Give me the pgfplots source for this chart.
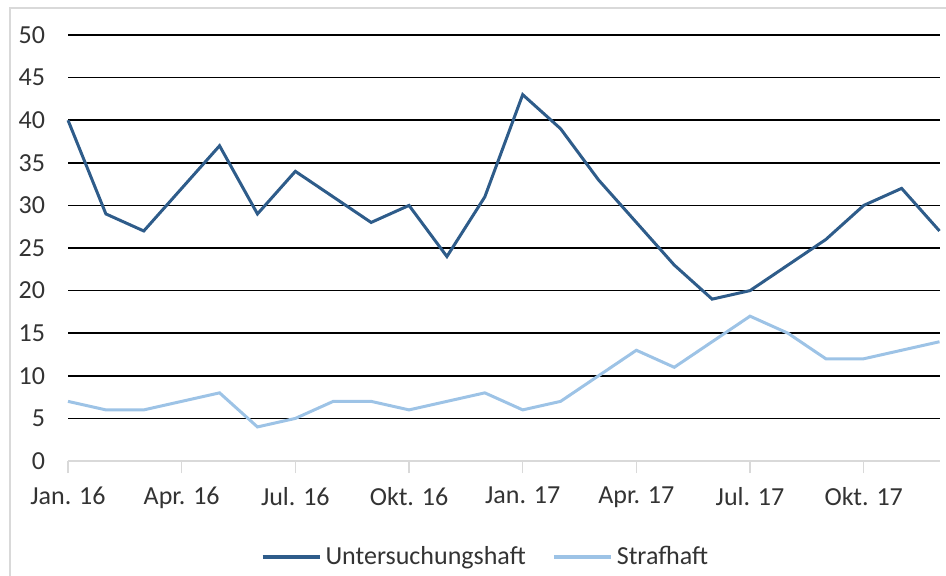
\documentclass[border=0pt]{standalone}
\usepackage{fontspec}
\setmainfont{Carlito}
\usepackage{pgfplots}
\pgfplotsset{compat=1.18}

\definecolor{uhaft}{HTML}{2E5C8A}
\definecolor{shaft}{HTML}{9DC3E6}
\definecolor{frame}{HTML}{D9D9D9}

\begin{document}
\fontsize{13}{15.5}\selectfont
\begin{tikzpicture}
\useasboundingbox (-34pt,-57pt) rectangle (439pt,230.5pt);
\draw[frame, line width=0.75pt] (-29pt,-80pt) rectangle (470pt,226.5pt);
\begin{axis}[
    at={(0,0)}, anchor=south west,
    scale only axis,
    width=435.75pt, height=213pt,
    xmin=0, xmax=23,
    ymin=0, ymax=50,
    xtick={0,3,...,21},
    xticklabels={Jan. 16, Apr. 16, Jul. 16, Okt. 16, Jan. 17, Apr. 17, Jul. 17, Okt. 17},
    ytick={0,5,...,50},
    axis x line*=bottom,
    axis y line*=left,
    x axis line style={frame, line width=0.75pt, -},
    y axis line style={draw=none},
    ymajorgrids,
    grid style={black, line width=0.75pt},
    tick align=outside,
    major tick length=6pt,
    x tick style={frame, line width=0.75pt},
    y tick style={draw=none},
    tick label style={font=\fontsize{13}{15.5}\selectfont, text=black!80},
    xticklabel style={yshift=-2.5pt},
    yticklabel style={xshift=-1pt},
    /pgf/number format/assume math mode=true,
    legend style={
        at={(axis description cs:0.48,-0.2254)}, anchor=center,
        draw=none, fill=none,
        font=\fontsize{13}{15.5}\selectfont,
        text=black!80,
    },
    legend columns=2,
    legend cell align=left,
    /tikz/every even column/.append style={column sep=11pt},
    legend image code/.code={\draw[#1, line width=2pt] (0pt,0pt) -- (28.5pt,0pt);},
    clip=false,
]
\addplot[uhaft, line width=1.5pt] coordinates {
    (0,40) (1,29) (2,27) (3,32) (4,37) (5,29) (6,34) (7,31)
    (8,28) (9,30) (10,24) (11,31) (12,43) (13,39) (14,33) (15,28)
    (16,23) (17,19) (18,20) (19,23) (20,26) (21,30) (22,32) (23,27)
};
\addlegendentry{Untersuchungshaft}

\addplot[shaft, line width=1.5pt] coordinates {
    (0,7) (1,6) (2,6) (3,7) (4,8) (5,4) (6,5) (7,7)
    (8,7) (9,6) (10,7) (11,8) (12,6) (13,7) (14,10) (15,13)
    (16,11) (17,14) (18,17) (19,15) (20,12) (21,12) (22,13) (23,14)
};
\addlegendentry{Strafhaft}
\end{axis}
\end{tikzpicture}
\end{document}
